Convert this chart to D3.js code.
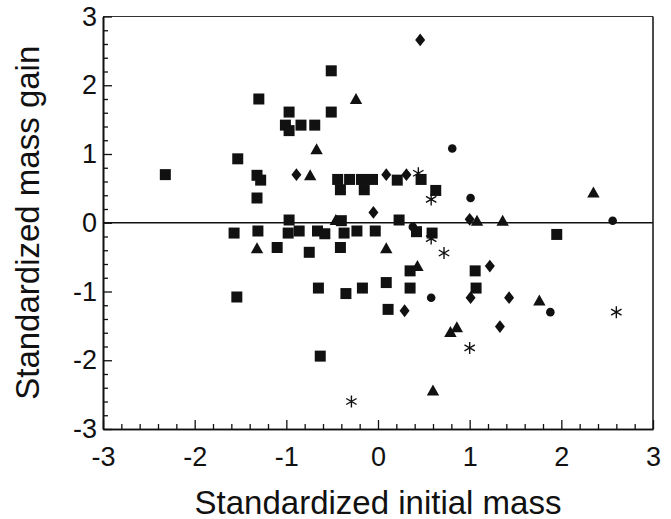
<!DOCTYPE html>
<html>
<head>
<meta charset="utf-8">
<script src="https://cdn.jsdelivr.net/npm/d3@7"></script>
<style>
  body { margin: 0; background: #fff; }
  svg { display: block; }
  .tick text { font-family: "Liberation Sans", Arial, Helvetica, sans-serif; }
</style>
</head>
<body>
<div id="chart"></div>
<script>
// values (standardized initial mass, standardized mass gain)
const squares = [
  [-2.32, 0.70], [-1.53, 0.93], [-1.30, 1.80], [-1.32, 0.69], [-1.28, 0.62], [-1.32, 0.36],
  [-0.97, 1.61], [-1.01, 1.42], [-0.97, 1.34], [-0.84, 1.42], [-0.69, 1.42], [-0.51, 2.21], [-0.51, 1.61],
  [-0.44, 0.63], [-0.31, 0.63], [-0.18, 0.63], [-0.06, 0.63], [-0.41, 0.48], [-0.15, 0.48],
  [0.21, 0.62], [0.47, 0.63], [0.63, 0.47],
  [-0.97, 0.04], [-0.40, 0.03], [0.23, 0.04],
  [-1.57, -0.15], [-1.31, -0.12], [-0.98, -0.15], [-0.86, -0.12], [-0.66, -0.12], [-0.58, -0.16],
  [-0.37, -0.15], [-0.23, -0.12], [-0.03, -0.12], [0.42, -0.13], [0.59, -0.15], [1.95, -0.17],
  [-1.10, -0.36], [-0.75, -0.43], [-0.41, -0.36],
  [0.35, -0.70], [1.06, -0.70],
  [-1.54, -1.08], [-0.65, -0.95], [-0.35, -1.03], [-0.17, -0.95], [0.09, -0.87], [0.35, -0.95],
  [1.07, -0.95], [0.11, -1.26], [-0.63, -1.94]
];
const triangles = [
  [-0.24, 1.80], [-0.67, 1.07], [-0.74, 0.69], [-0.46, 0.04], [1.08, 0.03], [1.36, 0.03],
  [2.35, 0.44], [-1.32, -0.37], [0.09, -0.37], [0.43, -0.63], [0.79, -1.59], [0.86, -1.52],
  [1.76, -1.13], [0.60, -2.44]
];
const diamonds = [
  [0.46, 2.66], [-0.89, 0.70], [0.09, 0.70], [0.31, 0.70], [-0.05, 0.15], [1.00, 0.05],
  [1.22, -0.63], [1.01, -1.09], [1.43, -1.09], [0.29, -1.28], [1.33, -1.51]
];
const circles = [
  [0.81, 1.08], [1.01, 0.36], [2.56, 0.03], [0.38, -0.06], [0.58, -1.09], [1.88, -1.30]
];
const stars = [
  [0.44, 0.72], [0.58, 0.34], [0.58, -0.23], [0.72, -0.44], [1.00, -1.82], [2.60, -1.30], [-0.29, -2.60]
];
const majorTicks = [-3, -2, -1, 0, 1, 2, 3];
const xTitle = "Standardized initial mass";
const yTitle = "Standardized mass gain";

const width = 671, height = 519;
const margin = { top: 16.5, right: 18, bottom: 90, left: 103 };
const innerWidth = width - margin.left - margin.right;
const innerHeight = height - margin.top - margin.bottom;
const ink = "#111";
const font = '"Liberation Sans", Arial, Helvetica, sans-serif';

const svg = d3.select("#chart")
  .append("svg")
    .attr("width", width)
    .attr("height", height);

const inner = svg.append("g")
  .attr("transform", `translate(${margin.left}, ${margin.top})`);

const xScale = d3.scaleLinear().domain([-3, 3]).range([0, innerWidth]);
const yScale = d3.scaleLinear().domain([-3, 3]).range([innerHeight, 0]);

const minorTicks = d3.range(-30, 31, 2).map(d => d / 10).filter(d => !majorTicks.includes(d));

/* frame: top and right sides */
inner.append("line")
  .attr("x1", 0).attr("x2", innerWidth).attr("y1", 0).attr("y2", 0)
  .attr("stroke", "#333").attr("stroke-width", 1.2);
inner.append("line")
  .attr("x1", innerWidth).attr("x2", innerWidth).attr("y1", 0).attr("y2", innerHeight)
  .attr("stroke", ink).attr("stroke-width", 1.5);

/* zero line */
inner.append("line")
  .attr("x1", 0).attr("x2", innerWidth)
  .attr("y1", yScale(0)).attr("y2", yScale(0))
  .attr("stroke", ink).attr("stroke-width", 1.3);

/* axes, ticks pointing inward */
const styleAxis = g => {
  g.select(".domain").attr("stroke", ink).attr("stroke-width", 1.6);
  g.selectAll(".tick line").attr("stroke", ink).attr("stroke-width", 1.3);
  g.selectAll(".tick text").attr("fill", ink).attr("font-size", 27).attr("font-family", font);
};

inner.append("g")
  .attr("transform", `translate(0, ${innerHeight})`)
  .call(d3.axisBottom(xScale).tickValues(minorTicks).tickSizeInner(-5).tickSizeOuter(0).tickFormat(""))
  .call(styleAxis);
inner.append("g")
  .attr("transform", `translate(0, ${innerHeight})`)
  .call(d3.axisBottom(xScale).tickValues(majorTicks).tickSizeInner(-9).tickSizeOuter(0)
    .tickPadding(18).tickFormat(d => String(d)))
  .call(styleAxis);

inner.append("g")
  .call(d3.axisLeft(yScale).tickValues(minorTicks).tickSizeInner(-5).tickSizeOuter(0).tickFormat(""))
  .call(styleAxis);
inner.append("g")
  .call(d3.axisLeft(yScale).tickValues(majorTicks).tickSizeInner(-9).tickSizeOuter(0)
    .tickPadding(6).tickFormat(d => String(d)))
  .call(styleAxis);

/* markers */
const pos = d => `translate(${xScale(d[0])}, ${yScale(d[1])})`;
const marks = inner.append("g").attr("class", "marks").attr("fill", ink);

marks.selectAll(".sq").data(squares).join("path")
  .attr("class", "sq")
  .attr("transform", pos)
  .attr("d", d3.symbol(d3.symbolSquare, 121));

marks.selectAll(".tri").data(triangles).join("path")
  .attr("class", "tri")
  .attr("transform", pos)
  .attr("d", "M0,-6L6.2,5L-6.2,5Z");

marks.selectAll(".dia").data(diamonds).join("path")
  .attr("class", "dia")
  .attr("transform", pos)
  .attr("d", "M0,-6.4L5,0L0,6.4L-5,0Z");

marks.selectAll(".cir").data(circles).join("circle")
  .attr("class", "cir")
  .attr("cx", d => xScale(d[0]))
  .attr("cy", d => yScale(d[1]))
  .attr("r", 4.3);

// asterisks
marks.selectAll(".star").data(stars).join("path")
  .attr("class", "star")
  .attr("transform", pos)
  .attr("fill", "none")
  .attr("stroke", ink)
  .attr("stroke-width", 1.4)
  .attr("d", "M0,-6V6M-5.2,-3L5.2,3M-5.2,3L5.2,-3");

/* axis titles */
svg.append("text")
  .attr("x", margin.left + innerWidth / 2)
  .attr("y", 514)
  .attr("text-anchor", "middle")
  .attr("font-family", font)
  .attr("font-size", 33)
  .attr("fill", ink)
  .text(xTitle);

svg.append("text")
  .attr("transform", `translate(39, ${margin.top + innerHeight / 2}) rotate(-90)`)
  .attr("text-anchor", "middle")
  .attr("font-family", font)
  .attr("font-size", 33)
  .attr("fill", ink)
  .text(yTitle);
</script>
</body>
</html>
